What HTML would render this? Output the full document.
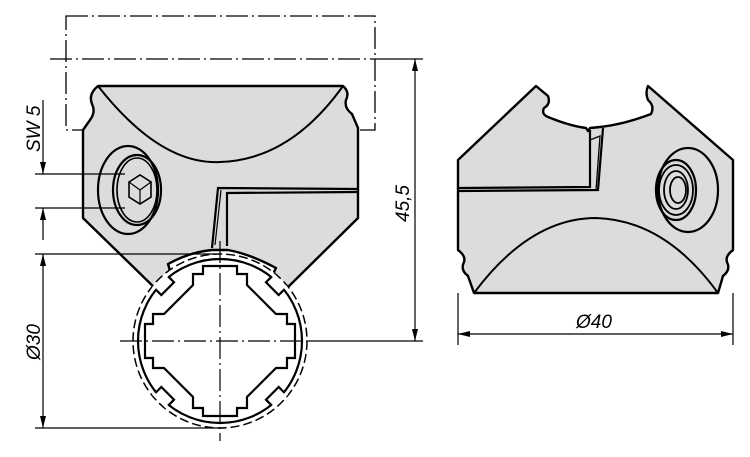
<!DOCTYPE html>
<html><head><meta charset="utf-8"><style>
html,body{margin:0;padding:0;background:#fff;}
svg{display:block;}
text{font-family:"Liberation Sans",sans-serif;font-style:italic;font-size:19px;fill:#000;}
</style></head><body>
<svg width="750" height="457" viewBox="0 0 750 457" xmlns="http://www.w3.org/2000/svg">
<defs>
<marker id="a" viewBox="0 0 12 6" refX="12" refY="3" markerWidth="12" markerHeight="6" orient="auto-start-reverse" markerUnits="userSpaceOnUse"><path d="M0,0 L12,3 L0,6 Z" fill="#000"/></marker>
</defs>
<g fill="none" stroke="#000" stroke-width="1.3">
<rect x="66" y="16" width="309" height="114" stroke-dasharray="22,4,2,4"/>
<line x1="50" y1="59" x2="375" y2="59" stroke-dasharray="22,4,2,4"/>
<line x1="375" y1="59" x2="423" y2="59"/>
</g>
<!-- left body -->
<path d="M98,86 L343,86 Q350,92 346,100 Q344,108 352,114 L358,128 L358,218 L282,293 L276,287 Q270,278 276,268 Q250,254 228,250 L212,250 Q190,252 168,264 Q172,274 166,281 L160,293 L83,218 L83,130 L90,120 Q96,112 92,104 Q88,94 98,86 Z" fill="#dcdcdc" stroke="#000" stroke-width="2.4" stroke-linejoin="round"/>
<g fill="none" stroke="#000">
<path d="M98,86 Q160,165 220,162 Q290,160 343,86" stroke-width="2"/>
<path d="M212,248 L218,188 L358,189" stroke-width="2.2"/>
<path d="M227,246 L227,193 L358,192" stroke-width="2.2"/>
<path d="M221,190 L215,245" stroke-width="1.2"/>
<ellipse cx="128" cy="190" rx="30" ry="44" stroke-width="2.2"/>
<ellipse cx="137" cy="190" rx="24" ry="35" stroke-width="2.2"/>
<ellipse cx="137" cy="190" rx="20" ry="32" stroke-width="1.6"/>
<path d="M129,182 L140,175 L151,182 L151,197 L140,204 L129,197 Z" stroke-width="1.6"/>
<path d="M129,182 L140,190 L151,182 M140,190 L140,204" stroke-width="1.2"/>
</g>
<!-- tube -->
<g transform="translate(220,341)">
<circle r="87" fill="#fff" stroke="#000" stroke-width="1.5" stroke-dasharray="9,4"/>
<circle r="82" fill="#fff" stroke="#000" stroke-width="2.2"/>
<g id="n">
<g transform="rotate(45)">
<rect x="-10" y="-86" width="20" height="8" fill="#fff"/>
<path d="M-9,-82.5 L-9,-74 L9,-74 L9,-82.5" fill="#fff" stroke="#000" stroke-width="2.2"/>
</g>
</g>
<use href="#n" transform="rotate(90)"/>
<use href="#n" transform="rotate(180)"/>
<use href="#n" transform="rotate(270)"/>
<path d="M-17,-75 L17,-75 L17,-67 L27,-67 L27,-56 L56,-27 L67,-27 L67,-17 L75,-17 L75,17 L67,17 L67,27 L56,27 L27,56 L27,67 L17,67 L17,75 L-17,75 L-17,67 L-27,67 L-27,56 L-56,27 L-67,27 L-67,17 L-75,17 L-75,-17 L-67,-17 L-67,-27 L-56,-27 L-27,-56 L-27,-67 L-17,-67 Z" fill="#fff" stroke="#000" stroke-width="2.2"/>
<g stroke="#000" stroke-width="1.2" stroke-dasharray="22,4,2,4">
<line x1="0" y1="-100" x2="0" y2="100"/>
<line x1="-100" y1="0" x2="87" y2="0"/>
</g>
</g>
<g stroke="#000" stroke-width="1.2" fill="none">
<line x1="35" y1="174" x2="125" y2="174"/>
<line x1="35" y1="208" x2="125" y2="208"/>
<line x1="43" y1="100" x2="43" y2="174" marker-end="url(#a)"/>
<line x1="43" y1="240" x2="43" y2="208" marker-end="url(#a)"/>
<line x1="35" y1="254" x2="215" y2="254"/>
<line x1="35" y1="428" x2="220" y2="428"/>
<line x1="43" y1="254" x2="43" y2="428" marker-start="url(#a)" marker-end="url(#a)"/>
<line x1="307" y1="341" x2="423" y2="341"/>
<line x1="415" y1="59" x2="415" y2="341" marker-start="url(#a)" marker-end="url(#a)"/>
</g>
<text transform="translate(40,152) rotate(-90)">SW 5</text>
<text transform="translate(40,360) rotate(-90)">Ø30</text>
<text transform="translate(409,222) rotate(-90)">45,5</text>
<!-- right view -->
<path d="M536,86 L548,96 Q551,104 544,108 Q541,114 548,117 Q570,126 586,128 L588,131 L590,128 Q620,126 651,114 Q655,106 648,100 Q645,93 648,86 L733,160 L733,250 Q725,256 727,262 Q731,270 723,276 L718,293 L474,293 L468,276 Q460,270 464,262 Q466,256 458,250 L458,160 Z" fill="#dcdcdc" stroke="#000" stroke-width="2.4" stroke-linejoin="round"/>
<g fill="none" stroke="#000">
<path d="M474,293 Q530,218 596,218 Q665,220 718,293" stroke-width="2"/>
<path d="M458,188 L590,187 L590,130 M458,191 L598,190 L603,128" stroke-width="2.2"/>
<path d="M590,140 L600,136 L596,190" stroke-width="1.3"/>
<ellipse cx="688" cy="190" rx="30" ry="42" stroke-width="2.2"/>
<ellipse cx="676" cy="190" rx="20" ry="30" stroke-width="2.2"/>
<ellipse cx="676" cy="190" rx="17" ry="25" stroke-width="1.8"/>
<ellipse cx="676" cy="190" rx="12" ry="19" stroke-width="1.8"/>
<ellipse cx="678" cy="190" rx="8" ry="13" stroke-width="1.8"/>
<line x1="458" y1="293" x2="458" y2="345" stroke-width="1.2"/>
<line x1="733" y1="293" x2="733" y2="345" stroke-width="1.2"/>
<line x1="458" y1="334" x2="733" y2="334" stroke-width="1.2" marker-start="url(#a)" marker-end="url(#a)"/>
</g>
<text x="576" y="328">Ø40</text>
</svg>
</body></html>
